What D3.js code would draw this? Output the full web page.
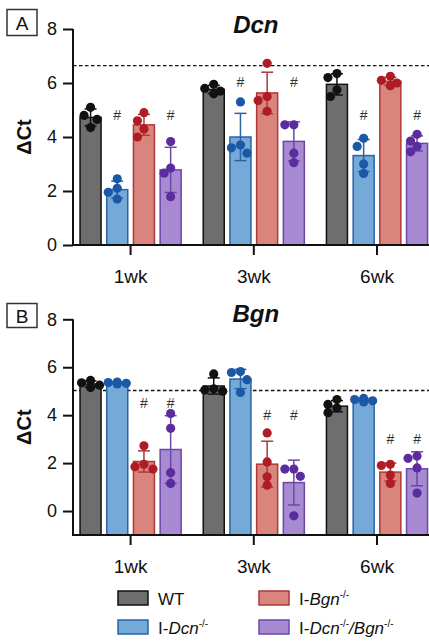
<!DOCTYPE html>
<html><head><meta charset="utf-8">
<script src="https://cdn.jsdelivr.net/npm/d3@7"></script>
<style>
html,body{margin:0;padding:0;background:#fff;overflow:hidden;}
svg{display:block;font-family:"Liberation Sans",Arial,Helvetica,sans-serif;}
</style></head>
<body>
<svg id="chart" width="429" height="642"></svg>
<script>
// ---------- DATA ----------
const groups = ["1wk", "3wk", "6wk"];
const seriesNames = ["WT", "I-Dcn-/-", "I-Bgn-/-", "I-Dcn-/-/Bgn-/-"];
const yTicks = [0, 2, 4, 6, 8];

// Panel A (Dcn) individual points, per group [1wk, 3wk, 6wk]
const dcnWT    = [[5.1, 4.8, 4.65, 4.35], [5.95, 5.8, 5.7, 5.6], [6.35, 6.2, 5.75, 5.5]];
const dcnDcnKO = [[2.45, 2.1, 1.95, 1.7], [5.3, 3.7, 3.6, 3.4], [3.95, 3.65, 3.0, 2.65]];
const dcnBgnKO = [[4.9, 4.6, 4.3, 4.0], [6.73, 5.5, 5.35, 4.95], [6.25, 6.1, 6.0, 5.9]];
const dcnDKO   = [[3.83, 2.85, 2.66, 1.79], [4.45, 4.45, 3.4, 3.05], [4.1, 3.85, 3.65, 3.45]];
const dcnRef = 6.64;
const dcnHashSeries = ["I-Dcn-/-", "I-Dcn-/-/Bgn-/-"];
const dcnHashY = [4.8, 6.05, 4.8];

// Panel B (Bgn)
const bgnWT    = [[5.45, 5.35, 5.25, 5.15], [5.72, 5.1, 5.05, 5.0], [4.65, 4.45, 4.3, 4.1]];
const bgnDcnKO = [[5.38, 5.36, 5.33, 5.3], [5.82, 5.78, 5.48, 4.95], [4.7, 4.65, 4.6, 4.55]];
const bgnBgnKO = [[2.72, 1.95, 1.85, 1.75], [3.26, 2.05, 1.43, 1.08], [1.95, 1.9, 1.5, 1.15]];
const bgnDKO   = [[4.07, 3.45, 1.6, 1.15], [1.75, 1.75, 1.45, -0.2], [2.3, 2.2, 1.8, 0.75]];
const bgnRef = 5.03;
const bgnHashSeries = ["I-Bgn-/-", "I-Dcn-/-/Bgn-/-"];
const bgnHashY = [4.5, 4.0, 3.0];

// ---------- STYLE ----------
const fills   = ["#6e6e6e", "#75aad8", "#d9847c", "#a78ad2"];
const strokes = ["#111111", "#2a64a6", "#b03838", "#6a48a8"];
const dots    = ["#111111", "#1b58a8", "#b01c26", "#5a2c9e"];

const svg = d3.select("#chart");
const axisX = 73;

const x0 = d3.scaleBand().domain(groups).range([69, 438.6]).padding(0);
const x1 = d3.scaleBand().domain(seriesNames).range([8.2, 115]).paddingInner(0.213).paddingOuter(0.1065);

function drawPanel(cfg) {
  const y = d3.scaleLinear().domain(cfg.domain).range(cfg.range);
  const g = svg.append("g");
  const base = cfg.range[0];

  // dashed reference line
  g.append("line").attr("x1", axisX).attr("x2", 440)
    .attr("y1", y(cfg.ref)).attr("y2", y(cfg.ref))
    .attr("stroke", "#111").attr("stroke-width", 1.3).attr("stroke-dasharray", "3.5,2.5");

  const seriesData = cfg.data;
  groups.forEach((grp, gi) => {
    seriesNames.forEach((s, si) => {
      const pts = seriesData[si][gi];
      const m = d3.mean(pts), sd = d3.deviation(pts);
      const bx = x0(grp) + x1(s), bw = x1.bandwidth(), cx = bx + bw / 2;
      // bar
      g.append("rect").attr("x", bx).attr("y", y(m)).attr("width", bw).attr("height", base - y(m))
        .attr("fill", fills[si]).attr("stroke", strokes[si]).attr("stroke-width", 1.5);
      // error bar
      const cap = 6;
      g.append("line").attr("x1", cx).attr("x2", cx).attr("y1", y(m + sd)).attr("y2", y(m - sd))
        .attr("stroke", strokes[si]).attr("stroke-width", 1.5);
      [m + sd, m - sd].forEach(v => {
        g.append("line").attr("x1", cx - cap).attr("x2", cx + cap).attr("y1", y(v)).attr("y2", y(v))
          .attr("stroke", strokes[si]).attr("stroke-width", 1.5);
      });
      // points, simple swarm
      const r = 4.6;
      const placed = [];
      const cands = [0, -6.5, 6.5, -3.5, 3.5, -9, 9];
      pts.slice().sort((a, b) => b - a).forEach(v => {
        const py = y(v);
        let off = cands.find(o => placed.every(p => Math.hypot(p[0] - o, p[1] - py) >= 2 * r - 1)) ?? 0;
        placed.push([off, py]);
        g.append("circle").attr("cx", cx + off).attr("cy", py).attr("r", r).attr("fill", dots[si]);
      });
    });
    // significance hashes
    cfg.hashSeries.forEach(s => {
      g.append("text").attr("x", x0(grp) + x1(s) + x1.bandwidth() / 2).attr("y", y(cfg.hashY[gi]) + 5)
        .attr("text-anchor", "middle").attr("font-size", 14).attr("fill", "#333").text("#");
    });
  });

  // y axis
  const ya = g.append("g").attr("transform", `translate(${axisX},0)`)
    .call(d3.axisLeft(y).tickValues(yTicks).tickSize(10).tickPadding(6).tickSizeOuter(0));
  ya.select(".domain").attr("stroke", "#111").attr("stroke-width", 2)
    .attr("d", `M0,${base}V${y(8)}`);
  ya.selectAll(".tick line").attr("stroke", "#111").attr("stroke-width", 2);
  ya.selectAll(".tick text").attr("font-size", 18).attr("fill", "#111")
    .attr("font-family", "Liberation Sans, Arial, sans-serif");

  // x axis
  g.append("line").attr("x1", axisX - 1).attr("x2", 440).attr("y1", base).attr("y2", base)
    .attr("stroke", "#111").attr("stroke-width", 2);
  const xa = g.append("g").attr("transform", `translate(0,${base})`)
    .call(d3.axisBottom(x0).tickSize(10).tickSizeOuter(0));
  xa.select(".domain").remove();
  xa.selectAll(".tick line").attr("stroke", "#111").attr("stroke-width", 2);
  xa.selectAll(".tick text").attr("y", 38).attr("dy", 0).attr("font-size", 19).attr("fill", "#111")
    .attr("font-family", "Liberation Sans, Arial, sans-serif");

  // y label
  const ymid = (base + y(8)) / 2;
  g.append("text").attr("transform", `translate(31,${ymid}) rotate(-90)`)
    .attr("text-anchor", "middle").attr("font-size", 20).attr("font-weight", "bold").attr("fill", "#111")
    .text("ΔCt");

  // title
  g.append("text").attr("x", (axisX + 438.6) / 2).attr("y", cfg.titleY)
    .attr("text-anchor", "middle").attr("font-size", 24).attr("font-weight", "bold")
    .attr("font-style", "italic").attr("fill", "#111").text(cfg.title);

  // panel letter box
  g.append("rect").attr("x", 7).attr("y", cfg.boxY).attr("width", 30).attr("height", cfg.boxH)
    .attr("fill", "none").attr("stroke", "#333").attr("stroke-width", 1.5);
  g.append("text").attr("x", 22).attr("y", cfg.boxY + cfg.boxH / 2 + 7)
    .attr("text-anchor", "middle").attr("font-size", 19).attr("fill", "#111").text(cfg.letter);
}

drawPanel({
  domain: [0, 8], range: [245, 29], data: [dcnWT, dcnDcnKO, dcnBgnKO, dcnDKO],
  ref: dcnRef, hashSeries: dcnHashSeries, hashY: dcnHashY,
  title: "Dcn", titleY: 33, letter: "A", boxY: 9.5, boxH: 26
});
drawPanel({
  domain: [-1, 8], range: [535, 319.3], data: [bgnWT, bgnDcnKO, bgnBgnKO, bgnDKO],
  ref: bgnRef, hashSeries: bgnHashSeries, hashY: bgnHashY,
  title: "Bgn", titleY: 322, letter: "B", boxY: 303.5, boxH: 24
});

// ---------- LEGEND ----------
const legendPos = [[118, 591], [118, 620], [259, 591], [259, 620]];
const legendLabels = [
  [["WT", ""]],
  [["I-", ""], ["Dcn", "i"], ["-/-", "s"]],
  [["I-", ""], ["Bgn", "i"], ["-/-", "s"]],
  [["I-", ""], ["Dcn", "i"], ["-/-", "s"], ["/", "i"], ["Bgn", "i"], ["-/-", "s"]]
];
const lg = svg.append("g");
seriesNames.forEach((s, i) => {
  const [lx, ly] = legendPos[i];
  lg.append("rect").attr("x", lx).attr("y", ly).attr("width", 30).attr("height", 14)
    .attr("fill", fills[i]).attr("stroke", strokes[i]).attr("stroke-width", 1.5);
  const t = lg.append("text").attr("x", lx + 40).attr("y", ly + 14)
    .attr("font-size", 17).attr("fill", "#111");
  let up = false;
  legendLabels[i].forEach(([txt, st]) => {
    const ts = t.append("tspan").text(txt);
    if (st === "i") ts.attr("font-style", "italic");
    if (st === "s") { ts.attr("font-size", 10).attr("dy", -7); up = true; }
    else { ts.attr("dy", up ? 7 : 0); up = false; }
  });
});
</script>
</body></html>
